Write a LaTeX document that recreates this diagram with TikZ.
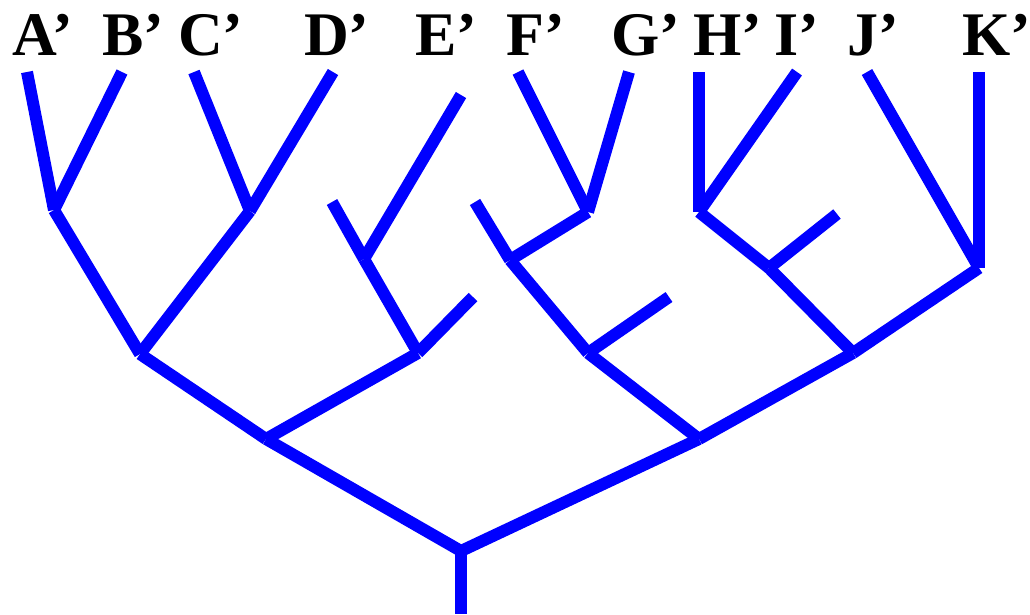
\documentclass[tikz,border=0pt]{standalone}
\usepackage{fontspec}
\setmainfont{Liberation Serif}
\begin{document}
\begin{tikzpicture}[x=1pt,y=-1pt,
  br/.style={draw=blue,line width=12pt,line cap=butt},
  lab/.style={anchor=base west,inner sep=0pt,font=\fontsize{62}{62}\selectfont\bfseries}]
\useasboundingbox (0,0) rectangle (1030,614);
% labels
\node[lab] (lA) at (12,55) {A’};
\node[lab] (lB) at (102,55) {B’};
\node[lab] (lC) at (178,55) {C’};
\node[lab] (lD) at (304,55) {D’};
\node[lab] (lE) at (415,55) {E’};
\node[lab] (lF) at (506,55) {F’};
\node[lab] (lG) at (611,55) {G’};
\node[lab] (lH) at (693,55) {H’};
\node[lab] (lI) at (774,55) {I’};
\node[lab] (lJ) at (847,55) {J’};
\node[lab] (lK) at (962,55) {K’};
% leaf tips
\coordinate (A) at (27,72);
\coordinate (B) at (122,72);
\coordinate (C) at (194,72);
\coordinate (D) at (333,72);
\coordinate (E) at (461,95);
\coordinate (F) at (518,72);
\coordinate (G) at (629,72);
\coordinate (H) at (699,72);
\coordinate (I) at (797,72);
\coordinate (J) at (867,72);
\coordinate (K) at (979,72);
% stubs
\coordinate (s1) at (332,202);
\coordinate (s2) at (473,297);
\coordinate (s3) at (475,202);
\coordinate (s4) at (669,297);
\coordinate (s5) at (837,214);
% junctions
\coordinate (AB) at (54,210);
\coordinate (CD) at (250,211);
\coordinate (ABCD) at (140,354);
\coordinate (Ej) at (364,259);
\coordinate (Ek) at (418,353);
\coordinate (L) at (266,439);
\coordinate (FG) at (588,212);
\coordinate (Fj) at (510,260);
\coordinate (Fk) at (588,353);
\coordinate (HI) at (699,212);
\coordinate (Hj) at (769,268);
\coordinate (JK) at (979,268);
\coordinate (HK) at (853,353);
\coordinate (R) at (699,439);
\coordinate (root) at (461,551);
\coordinate (base) at (461,614);
% branches
\draw[br] (A) -- (AB);
\draw[br] (B) -- (AB);
\draw[br] (C) -- (CD);
\draw[br] (D) -- (CD);
\draw[br] (AB) -- (ABCD);
\draw[br] (CD) -- (ABCD);
\draw[br] (s1) -- (Ej);
\draw[br] (E) -- (Ej);
\draw[br] (Ej) -- (Ek);
\draw[br] (s2) -- (Ek);
\draw[br] (ABCD) -- (L);
\draw[br] (Ek) -- (L);
\draw[br] (F) -- (FG);
\draw[br] (G) -- (FG);
\draw[br] (s3) -- (Fj);
\draw[br] (FG) -- (Fj);
\draw[br] (Fj) -- (Fk);
\draw[br] (s4) -- (Fk);
\draw[br] (H) -- (HI);
\draw[br] (I) -- (HI);
\draw[br] (HI) -- (Hj);
\draw[br] (s5) -- (Hj);
\draw[br] (J) -- (JK);
\draw[br] (K) -- (JK);
\draw[br] (Hj) -- (HK);
\draw[br] (JK) -- (HK);
\draw[br] (Fk) -- (R);
\draw[br] (HK) -- (R);
\draw[br] (L) -- (root);
\draw[br] (R) -- (root);
\draw[br] (root) -- (base);
\end{tikzpicture}
\end{document}
